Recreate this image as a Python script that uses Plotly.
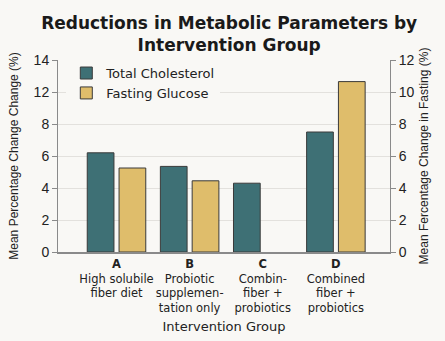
import plotly.graph_objects as go

groups = ["A", "B", "C", "D"]
group_desc = [
    "High solubile<br>fiber diet",
    "Probiotic<br>supplemen-<br>tation only",
    "Combin-<br>fiber +<br>probiotics",
    "Combined<br>fiber +<br>probiotics",
]
cholesterol = [6.2, 5.35, 4.3, 7.5]
glucose = [5.25, 4.45, None, 10.65]
left_ticktext = ["0", "2", "4", "6", "8", "12", "14"]
right_ticktext = ["0", "2", "4", "6", "8", "10", "12"]
tickvals = [0, 2, 4, 6, 8, 10, 12]

ticklabels = [f"<b>{g}</b><br>{d}" for g, d in zip(groups, group_desc)]
xs = list(range(len(groups)))

BG = "#f9f8f5"
TEAL = "#3e7075"
GOLD = "#dfbd6b"
EDGE = "#3a3a3a"
WIDE = "DejaVu Sans, Verdana, sans-serif"
SANS = "Liberation Sans, Arial, sans-serif"

fig = go.Figure()
fig.add_trace(go.Bar(
    x=xs, y=cholesterol, name="Total Cholesterol", marker_color=TEAL,
    marker_line=dict(color=EDGE, width=1), offsetgroup="1", yaxis="y",
))
fig.add_trace(go.Bar(
    x=xs, y=glucose, name="Fasting Glucose", marker_color=GOLD,
    marker_line=dict(color=EDGE, width=1), offsetgroup="2", yaxis="y2",
))

fig.update_layout(
    width=445, height=341,
    paper_bgcolor=BG, plot_bgcolor=BG,
    margin=dict(l=58, r=55, t=60, b=89),
    barmode="group", bargap=0.13, bargroupgap=0.16,
    font=dict(family=SANS, color="#222", size=12),
    title=dict(
        text="<b>Reductions in Metabolic Parameters by<br>Intervention Group</b>",
        x=0.515, xanchor="center", y=1 - 29 / 341, yanchor="middle", yref="container",
        font=dict(family=WIDE, size=17, color="#1a1a1a"),
    ),
    legend=dict(
        x=0.025, y=1.01, xanchor="left", yanchor="top", bgcolor=BG,
        font=dict(family=WIDE, size=13, color="#222"),
        itemwidth=30, tracegroupgap=0,
    ),
    xaxis=dict(
        tickmode="array", tickvals=xs, ticktext=ticklabels, automargin=False,
        tickangle=0,
        range=[-0.8, 3.74], showline=True, linecolor="#8a8a8a", linewidth=1.5,
        ticks="", showgrid=False, zeroline=False,
        tickfont=dict(family=WIDE, size=11.5, color="#222"),
        title=dict(text="Intervention Group", standoff=7,
                   font=dict(family=WIDE, size=13, color="#222")),
    ),
    yaxis=dict(
        range=[0, 12], tickmode="array", tickvals=tickvals, ticktext=left_ticktext,
        automargin=False,
        showgrid=True, gridcolor="#e3e1dd", gridwidth=1, zeroline=False,
        showline=True, linecolor="#8a8a8a", ticks="outside", ticklen=5, tickcolor="#8a8a8a",
        tickfont=dict(family=SANS, size=14, color="#222"),
        title=dict(text="Mean Percentage Change Change (%)", standoff=12,
                   font=dict(family=SANS, size=12, color="#222")),
    ),
    yaxis2=dict(
        range=[0, 12], tickmode="array", tickvals=tickvals, ticktext=right_ticktext,
        overlaying="y", side="right", showgrid=False, zeroline=False, automargin=False,
        showline=True, linecolor="#8a8a8a", ticks="outside", ticklen=5, tickcolor="#8a8a8a",
        tickfont=dict(family=SANS, size=14, color="#222"),
        title=dict(text="Mean Fercentage Change in Fasting (%)", standoff=6,
                   font=dict(family=SANS, size=12, color="#222")),
    ),
)

fig.write_html("out.html")
